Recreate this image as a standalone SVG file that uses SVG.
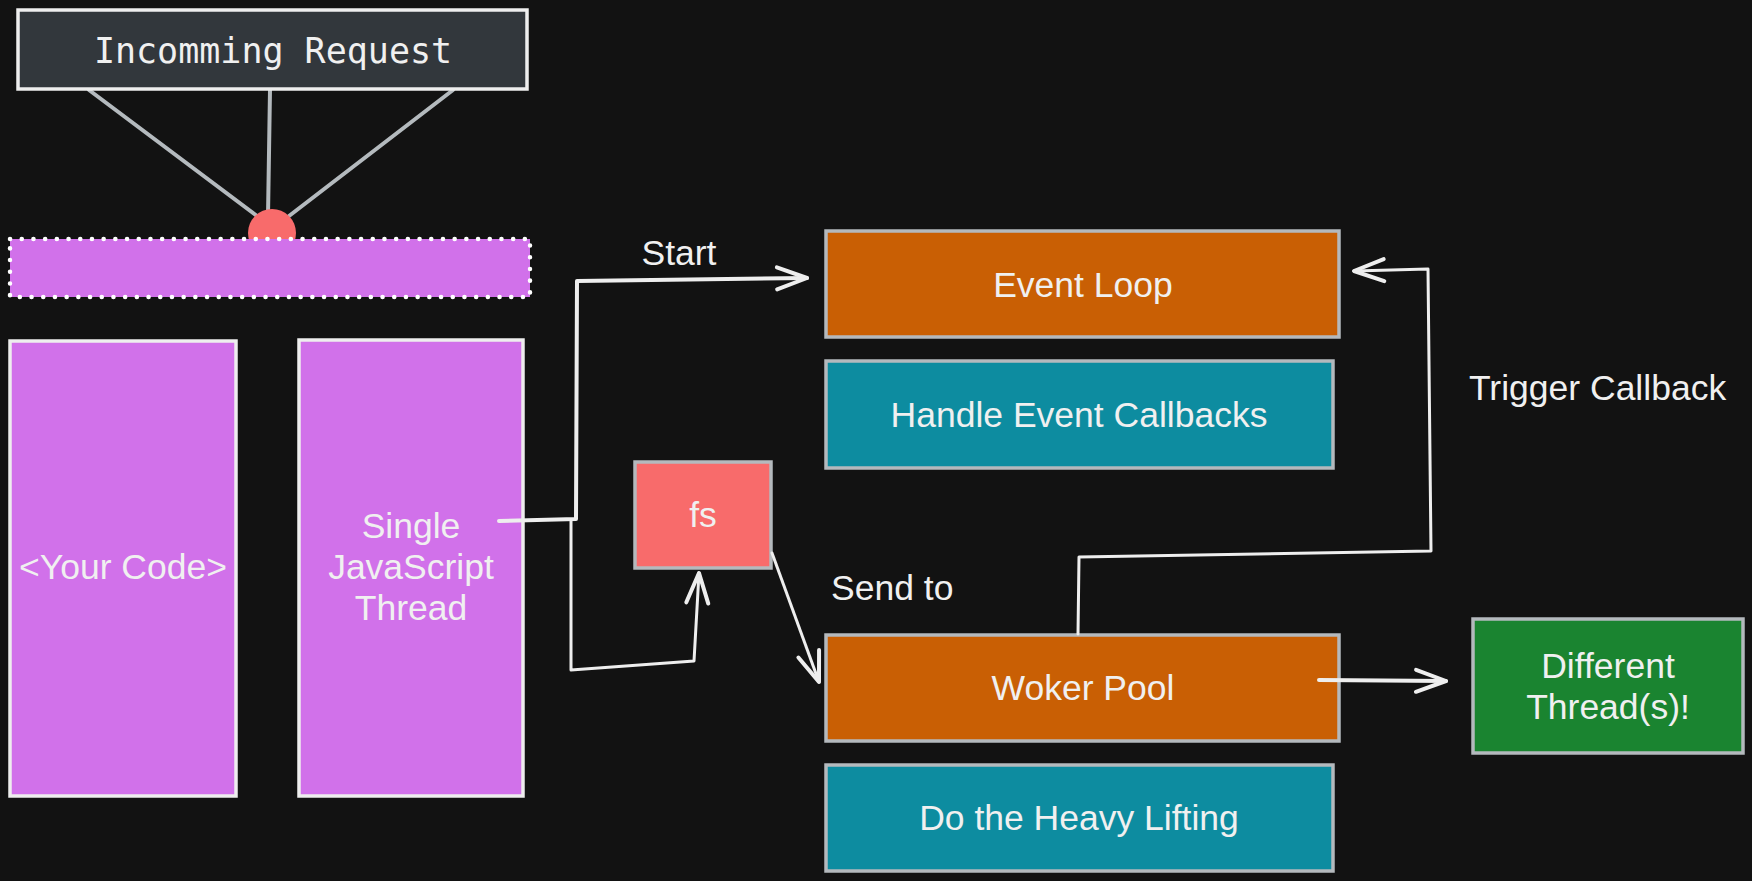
<svg xmlns="http://www.w3.org/2000/svg" width="1752" height="881" viewBox="0 0 1752 881">
<defs>
<style>
.t{font-family:"Liberation Sans",Arial,sans-serif;font-size:35.5px;fill:#f0f0f0;text-anchor:middle}
.lbl{font-family:"Liberation Sans",Arial,sans-serif;font-size:35.5px;fill:#f0f0f0}
.mono{font-family:"DejaVu Sans Mono","Liberation Mono",monospace;font-size:35px;fill:#f0f0f0;text-anchor:middle}
.gb{stroke:#b4b9bd;stroke-width:3.5}
.wb{stroke:#eeeeee;stroke-width:3.5}
.orange{fill:#c95f04}
.teal{fill:#0d8ca0}
.purple{fill:#d171ea}
.conn{fill:none;stroke:#eeeeee;stroke-width:3;stroke-linejoin:round;stroke-linecap:round}
.req{fill:none;stroke:#b4babe;stroke-width:4;stroke-linecap:round}
</style>
<marker id="arr" viewBox="-34 -14 38 28" refX="0" refY="0" markerWidth="38" markerHeight="28" markerUnits="userSpaceOnUse" orient="auto">
<path d="M-30,-11 L0,0 L-30,11" fill="none" stroke="#eeeeee" stroke-width="4" stroke-linecap="round" stroke-linejoin="round"/>
</marker>
</defs>
<rect x="0" y="0" width="1752" height="881" fill="#121212"/>

<g id="request-lines">
<line class="req" x1="89" y1="90" x2="257" y2="216"/>
<line class="req" x1="270" y1="90" x2="268" y2="216"/>
<line class="req" x1="453" y1="90" x2="289" y2="216"/>
</g>

<g id="incoming-request">
<rect x="18" y="10" width="509" height="79" fill="#32373c" class="wb"/>
<text class="mono" x="273" y="63">Incomming Request</text>
</g>

<g id="request-dot">
<circle cx="272" cy="233" r="24" fill="#f86b6b"/>
</g>

<g id="event-bar">
<rect x="10" y="239" width="520" height="58" class="purple" stroke="#ffffff" stroke-width="4.5" stroke-dasharray="0.1 11.6" stroke-linecap="round"/>
</g>

<g id="your-code">
<rect x="10" y="341" width="226" height="455" class="purple wb"/>
<text class="t" x="123" y="579">&lt;Your Code&gt;</text>
</g>

<g id="js-thread">
<rect x="299" y="340" width="224" height="456" class="purple wb"/>
<text class="t" x="411" y="538">Single</text>
<text class="t" x="411" y="579">JavaScript</text>
<text class="t" x="411" y="620">Thread</text>
</g>

<g id="event-loop">
<rect x="826" y="231" width="513" height="106" class="orange gb"/>
<text class="t" x="1083" y="297">Event Loop</text>
</g>

<g id="handle-callbacks">
<rect x="826" y="361" width="507" height="107" class="teal gb"/>
<text class="t" x="1079" y="427">Handle Event Callbacks</text>
</g>

<g id="fs">
<rect x="635" y="462" width="136" height="106" fill="#f86b6b" class="gb"/>
<text class="t" x="703" y="527">fs</text>
</g>

<g id="worker-pool">
<rect x="826" y="635" width="513" height="106" class="orange gb"/>
<text class="t" x="1083" y="700">Woker Pool</text>
</g>

<g id="heavy-lifting">
<rect x="826" y="765" width="507" height="106" class="teal gb"/>
<text class="t" x="1079" y="830">Do the Heavy Lifting</text>
</g>

<g id="different-threads">
<rect x="1473" y="619" width="270" height="134" fill="#1a8430" class="gb"/>
<text class="t" x="1608" y="678">Different</text>
<text class="t" x="1608" y="719">Thread(s)!</text>
</g>

<g id="connectors">
<path class="conn" style="stroke-width:4" d="M499,521 L576,519 L577,281 L807,278" marker-end="url(#arr)"/>
<path class="conn" d="M571,521 L571,670 L694,661 L699,573" marker-end="url(#arr)"/>
<path class="conn" d="M772,553 L819,682" marker-end="url(#arr)"/>
<path class="conn" d="M1078,634 L1079,557 L1431,551 L1428,269 L1354,271" marker-end="url(#arr)"/>
<path class="conn" style="stroke-width:4" d="M1319,680 L1446,681" marker-end="url(#arr)"/>
</g>

<g id="labels">
<text class="t" x="679" y="265">Start</text>
<text class="lbl" x="831" y="600">Send to</text>
<text class="lbl" x="1469" y="400">Trigger Callback</text>
</g>
</svg>
